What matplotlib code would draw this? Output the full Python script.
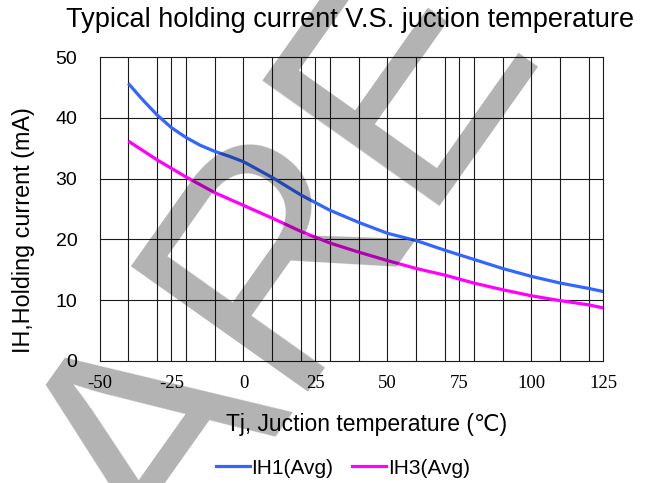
import matplotlib
matplotlib.use('Agg')
import matplotlib.pyplot as plt
from matplotlib.lines import Line2D

# ---------------- data ----------------
temp_ih1 = [-40, -35, -30, -25, -20, -15, -10, -5, 0, 10, 20, 30, 40, 50, 60, 70, 80, 90, 100, 110, 120, 125]
ih1_avg = [45.7, 43.0, 40.5, 38.4, 36.8, 35.5, 34.5, 33.7, 32.8, 30.2, 27.3, 24.8, 22.8, 21.0, 19.8, 18.2,
           16.7, 15.2, 13.9, 12.8, 11.9, 11.4]
temp_ih3 = [-40, -30, -20, -10, 0, 10, 20, 30, 40, 50, 60, 70, 80, 90, 100, 110, 120, 125]
ih3_avg = [36.2, 33.1, 30.3, 27.7, 25.6, 23.5, 21.3, 19.4, 17.9, 16.5, 15.2, 14.1, 12.8, 11.7, 10.7, 9.9, 9.2, 8.7]

x_ticks = [-50, -25, 0, 25, 50, 75, 100, 125]
x_tick_labels = ['-50', '-25', '0', '25', '50', '75', '100', '125']
y_ticks = [0, 10, 20, 30, 40, 50]
y_tick_labels = ['0', '10', '20', '30', '40', '50']
x_grid = [-40, -30, -25, -20, -10, 0, 10, 20, 25, 30, 40, 50, 60, 70, 75, 80, 90, 100, 110, 120]
y_grid = [10, 20, 30, 40]

series_names = ['IH1(Avg)', 'IH3(Avg)']
series_colors = ['#3366FF', '#FF00FF']

title = 'Typical holding current V.S. juction temperature'
xlabel = 'Tj, Juction temperature (\u2103)'
ylabel = 'IH,Holding current (mA)'
watermark = 'ARE'

# ---------------- figure ----------------
plt.rcParams['axes.unicode_minus'] = False
W, H = 653, 483
fig = plt.figure(figsize=(W / 100, H / 100), dpi=100)
ax = fig.add_axes([99.5 / W, 1 - 360.7 / H, (603.3 - 99.5) / W, (360.7 - 57.3) / H])

sans = ['Liberation Sans', 'DejaVu Sans']
serif = ['Liberation Serif', 'DejaVu Serif']

grid_color = '#1a1a1a'
for gx in x_grid:
    ax.axvline(gx, color=grid_color, lw=0.8, zorder=1)
for gy in y_grid:
    ax.axhline(gy, color=grid_color, lw=0.8, zorder=1)

ax.plot(temp_ih1, ih1_avg, color=series_colors[0], lw=2.3, zorder=3, solid_capstyle='butt')
ax.plot(temp_ih3, ih3_avg, color=series_colors[1], lw=2.3, zorder=3, solid_capstyle='butt')

ax.set_xlim(-50, 125)
ax.set_ylim(0, 50)
ax.set_xticks(x_ticks)
ax.set_xticklabels(x_tick_labels, family=serif, fontsize=13.5)
ax.set_yticks(y_ticks)
ax.set_yticklabels(y_tick_labels, family=sans, fontsize=14)
ax.tick_params(axis='both', length=0)
ax.tick_params(axis='x', pad=10.5)
ax.tick_params(axis='y', pad=16)
for s in ax.spines.values():
    s.set_color(grid_color)
    s.set_linewidth(0.8)

fig.text(350 / W, 1 - 20 / H, title, ha='center', va='center', fontsize=19.5, family=sans)
fig.text(366.5 / W, 1 - 424 / H, xlabel, ha='center', va='center', fontsize=16.5, family=sans)
fig.text(23.5 / W, 1 - 230 / H, ylabel, ha='center', va='center', rotation=90, fontsize=16.8, family=sans)

handles = [Line2D([], [], color=c, lw=2.3) for c in series_colors]
fig.legend(handles, series_names, loc='center', bbox_to_anchor=(343 / W, 1 - 468 / H), ncol=2,
           frameon=False, prop={'family': sans, 'size': 15}, handlelength=1.63, handletextpad=0.1,
           columnspacing=0.9, borderpad=0, borderaxespad=0)

# semi-transparent watermark text on top
fig.text(172.0 / W, 1 - 583.0 / H, watermark, rotation=54.7, rotation_mode='anchor', ha='left',
         va='baseline', fontsize=226.8, family=sans, color='black', alpha=0.3, zorder=100)

fig.savefig('out.png', dpi=100)
